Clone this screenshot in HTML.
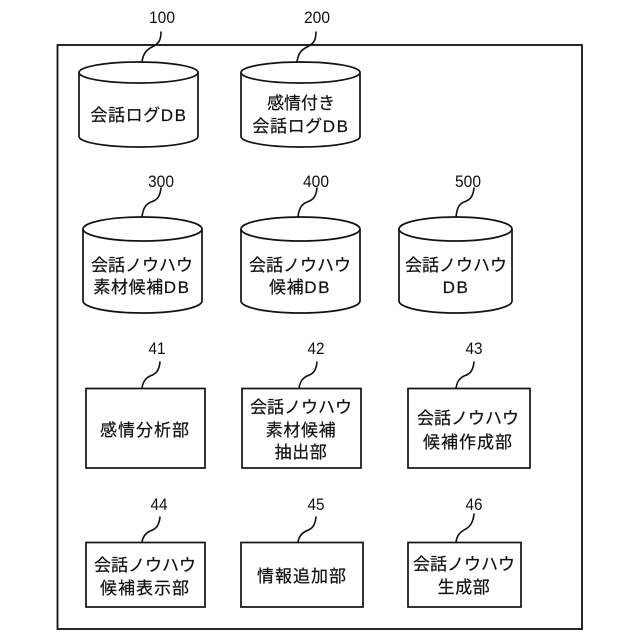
<!DOCTYPE html>
<html lang="ja">
<head>
<meta charset="utf-8">
<title>Diagram</title>
<style>
html,body{margin:0;padding:0;background:#fff}
svg{display:block}
.s{fill:#fff;stroke:#111;stroke-width:1.7}
.l{fill:none;stroke:#111;stroke-width:1.6;stroke-linecap:round}
text{font-family:"Liberation Sans","Noto Sans CJK JP",sans-serif;fill:#111;text-anchor:middle}
.t{font-size:17px;stroke:#111;stroke-width:.2}
.k{letter-spacing:1px}
.m{letter-spacing:.6px}
.n{font-size:17px}
.d{letter-spacing:1.6px}
</style>
</head>
<body>
<svg width="640" height="640" viewBox="0 0 640 640" xmlns="http://www.w3.org/2000/svg">
<rect width="640" height="640" fill="#fff"/>
<rect x="57.5" y="45" width="524.5" height="584" fill="none" stroke="#111" stroke-width="1.8"/>

<!-- cylinders row 1 -->
<path class="s" d="M79 72.500V136.500A59.500 10.500 0 0 0 198 136.500V72.500"/>
<ellipse class="s" cx="138.500" cy="72.500" rx="59.500" ry="10.500"/>
<path class="s" d="M241 72.500V136.500A59.500 10.500 0 0 0 360 136.500V72.500"/>
<ellipse class="s" cx="300.500" cy="72.500" rx="59.500" ry="10.500"/>

<!-- cylinders row 2 -->
<path class="s" d="M83 229V301A59.500 12 0 0 0 202 301V229"/>
<ellipse class="s" cx="142.500" cy="229" rx="59.500" ry="12"/>
<path class="s" d="M241 229V301A59.500 12 0 0 0 360 301V229"/>
<ellipse class="s" cx="300.500" cy="229" rx="59.500" ry="12"/>
<path class="s" d="M399 229V301A56.500 12 0 0 0 512 301V229"/>
<ellipse class="s" cx="455.500" cy="229" rx="56.500" ry="12"/>

<!-- boxes -->
<rect class="s" x="86" y="388.500" width="119" height="79.500"/>
<rect class="s" x="242" y="388.500" width="119" height="79.500"/>
<rect class="s" x="408" y="388.500" width="122" height="79.500"/>
<rect class="s" x="86" y="542.500" width="119" height="64.500"/>
<rect class="s" x="241" y="542.500" width="122" height="64.500"/>
<rect class="s" x="408" y="542.500" width="113" height="64.500"/>

<!-- leaders -->
<path class="l" d="M161 32C161 41 158 44 152 47C146 50 143 54 142 62"/>
<path class="l" d="M316 32C316 41 313 44 307 47C301 50 298 54 297 62"/>
<path class="l" d="M161 188C160 197 157 200 151 202C146 204 143 208 142 217"/>
<path class="l" d="M317 188C316 197 313 200 307 202C302 204 299 208 298 217"/>
<path class="l" d="M474 188C473 197 470 200 464 202C459 204 457 208 456 217"/>
<path class="l" d="M160 362C159 371 156 374 150 376C146 378 143 381 142 388"/>
<path class="l" d="M317 362C316 371 313 374 307 376C303 378 300 381 299 388"/>
<path class="l" d="M474 362C473 371 470 374 464 376C460 378 457 381 456 388"/>
<path class="l" d="M160 517C159 526 156 529 150 531C146 533 143 536 142 542"/>
<path class="l" d="M316 517C315 526 312 529 306 531C302 533 299 536 298 542"/>
<path class="l" d="M474 514C473 523 470 527 464 530C459 533 457 536 456 542"/>

<!-- numbers -->
<text class="n" x="162" y="23" textLength="26" lengthAdjust="spacingAndGlyphs">100</text>
<text class="n" x="317" y="23" textLength="26" lengthAdjust="spacingAndGlyphs">200</text>
<text class="n" x="161" y="187" textLength="26" lengthAdjust="spacingAndGlyphs">300</text>
<text class="n" x="316" y="187" textLength="26" lengthAdjust="spacingAndGlyphs">400</text>
<text class="n" x="468" y="187" textLength="26" lengthAdjust="spacingAndGlyphs">500</text>
<text class="n" x="157" y="354" textLength="17" lengthAdjust="spacingAndGlyphs">41</text>
<text class="n" x="316" y="354" textLength="17" lengthAdjust="spacingAndGlyphs">42</text>
<text class="n" x="474" y="354" textLength="17" lengthAdjust="spacingAndGlyphs">43</text>
<text class="n" x="159" y="510" textLength="17" lengthAdjust="spacingAndGlyphs">44</text>
<text class="n" x="316" y="510" textLength="17" lengthAdjust="spacingAndGlyphs">45</text>
<text class="n" x="474" y="510" textLength="17" lengthAdjust="spacingAndGlyphs">46</text>

<!-- labels -->
<text class="t m" x="139" y="121">会話ログ<tspan class="d">DB</tspan></text>
<text class="t" x="301" y="109">感情付き</text>
<text class="t m" x="301" y="132">会話ログ<tspan class="d">DB</tspan></text>
<text class="t" x="142" y="271">会話ノウハウ</text>
<text class="t m" x="142" y="293">素材候補<tspan class="d">DB</tspan></text>
<text class="t" x="300" y="271">会話ノウハウ</text>
<text class="t m" x="300" y="293">候補<tspan class="d">DB</tspan></text>
<text class="t" x="456" y="271">会話ノウハウ</text>
<text class="t" x="456" y="293"><tspan class="d">DB</tspan></text>
<text class="t k" x="145" y="436">感情分析部</text>
<text class="t" x="301" y="413">会話ノウハウ</text>
<text class="t m" x="301" y="436">素材候補</text>
<text class="t m" x="301" y="458">抽出部</text>
<text class="t" x="468" y="424">会話ノウハウ</text>
<text class="t k" x="468" y="448">候補作成部</text>
<text class="t" x="145" y="571">会話ノウハウ</text>
<text class="t k" x="145" y="594">候補表示部</text>
<text class="t k" x="302" y="582">情報追加部</text>
<text class="t" x="464" y="570">会話ノウハウ</text>
<text class="t m" x="464" y="593">生成部</text>
</svg>
</body>
</html>
